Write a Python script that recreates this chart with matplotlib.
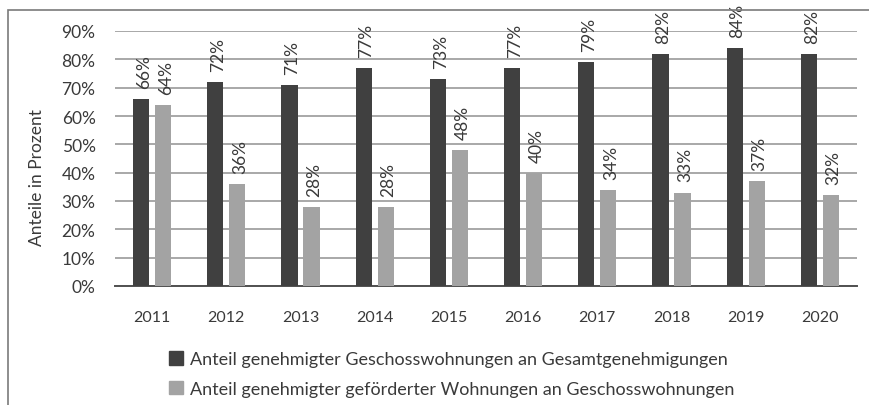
import matplotlib.pyplot as plt
import matplotlib.patches as mpatches
import numpy as np

years = ["2011", "2012", "2013", "2014", "2015", "2016", "2017", "2018", "2019", "2020"]
shareMultiStorey = [66, 72, 71, 77, 73, 77, 79, 82, 84, 82]
shareSubsidised = [64, 36, 28, 28, 48, 40, 34, 33, 37, 32]
seriesNames = ["Anteil genehmigter Geschosswohnungen an Gesamtgenehmigungen",
               "Anteil genehmigter geförderter Wohnungen an Geschosswohnungen"]

darkColor = "#404040"
lightColor = "#a3a3a3"
textColor = "#3a3a3a"

plt.rcParams["font.family"] = ["Lato", "DejaVu Sans"]

fig = plt.figure(figsize=(8.69, 4.06), dpi=100)
ax = fig.add_axes([115 / 869, 1 - 287 / 406, 742 / 869, 255 / 406])

x = np.arange(len(years))
barWidth = 0.22
offset = 0.148

bars1 = ax.bar(x - offset, shareMultiStorey, barWidth, color=darkColor, zorder=3)
bars2 = ax.bar(x + offset, shareSubsidised, barWidth, color=lightColor, zorder=3)

# value labels, rotated like in the original
for barSet in (bars1, bars2):
    for b in barSet:
        ax.annotate(f"{b.get_height():.0f}%", (b.get_x() + b.get_width() / 2, b.get_height()),
                    xytext=(2, 8), textcoords="offset points", rotation=90,
                    ha="center", va="bottom", fontsize=12.5, color=textColor,
                    annotation_clip=False, zorder=4)

ax.set_xlim(-0.5, len(years) - 0.5)
ax.set_ylim(0, 90)
ax.set_yticks(range(0, 91, 10))
ax.set_yticklabels([f"{v}%" for v in range(0, 91, 10)])
ax.set_xticks(x)
ax.set_xticklabels(years)
ax.grid(axis="y", color="#a8a8a8", linewidth=1.4, zorder=0)
for s in ["top", "right", "left"]:
    ax.spines[s].set_visible(False)
ax.spines["bottom"].set_color("#505050")
ax.spines["bottom"].set_linewidth(1.4)
ax.tick_params(axis="y", length=0, pad=14, labelsize=12.5, labelcolor=textColor)
ax.tick_params(axis="x", length=0, pad=17, labelsize=11.5, labelcolor=textColor)

fig.text(37 / 869, 1 - 178 / 406, "Anteile in Prozent", rotation=90, ha="center", va="center",
         fontsize=12.5, color=textColor)

# legend below the plot
handles = [mpatches.Patch(color=darkColor, label=seriesNames[0]),
           mpatches.Patch(color=lightColor, label=seriesNames[1])]
fig.legend(handles=handles, loc="upper left", bbox_to_anchor=(153 / 869, 1 - 336 / 406),
           frameon=False, fontsize=13, labelcolor=textColor, handlelength=0.75,
           handleheight=0.75, handletextpad=0.4, labelspacing=0.75)

# frame around the figure (partly cut off in the original)
fig.add_artist(mpatches.Rectangle((8 / 869, -0.1), 1.1, 1 - 11 / 406 + 0.1, transform=fig.transFigure,
                                  fill=False, edgecolor="#7a7a7a", linewidth=1.2))

fig.savefig("out.png", dpi=100)
